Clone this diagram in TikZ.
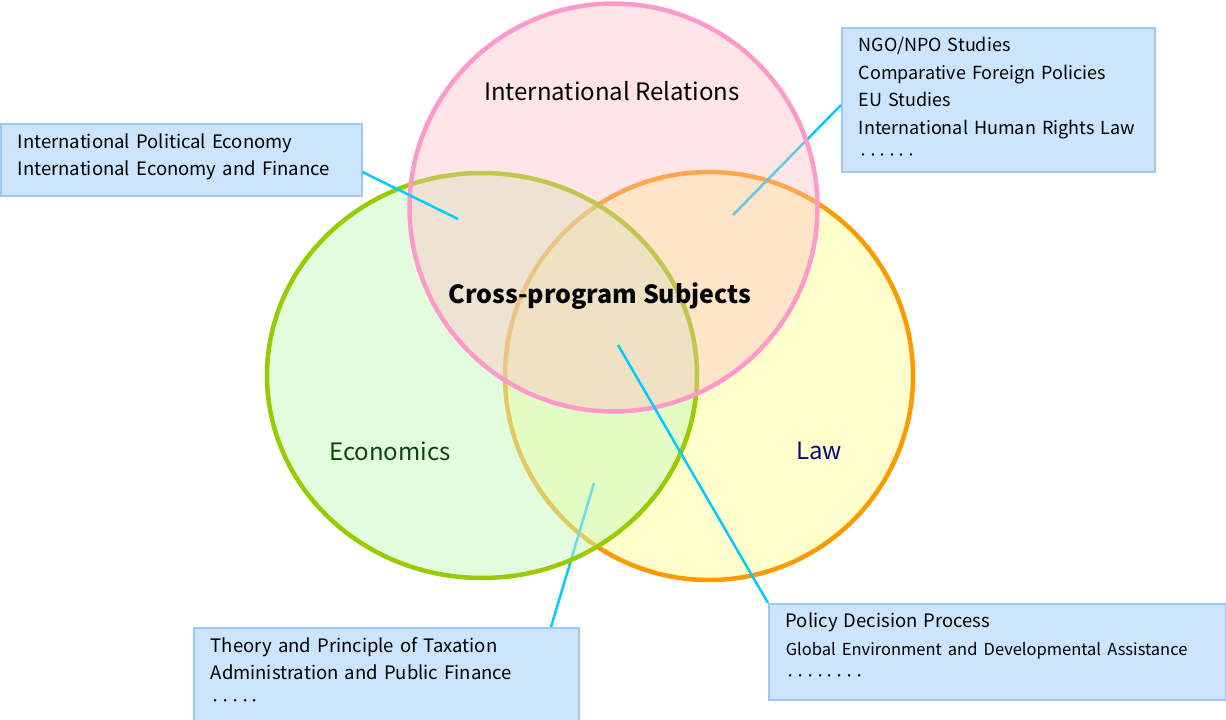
\documentclass[tikz,border=0pt]{standalone}
\usepackage{fontspec}
\setmainfont{Noto Sans CJK JP}
\definecolor{irpink}{RGB}{255,153,204}
\definecolor{irfill}{RGB}{255,189,194}
\definecolor{ecgreen}{RGB}{153,204,0}
\definecolor{ecfill}{RGB}{200,250,190}
\definecolor{laworange}{RGB}{255,153,0}
\definecolor{lawfill}{RGB}{255,255,204}
\definecolor{linkblue}{RGB}{0,204,255}
\definecolor{notefill}{RGB}{204,228,252}
\definecolor{noteline}{RGB}{157,200,242}
\newcommand{\fsz}[1]{\fontsize{#1}{#1}\selectfont}
\newcommand{\dotrow}[1]{\foreach \i in {1,...,#1}{·\kern-0.6pt}}
% extra depth under the last line of a box
\newcommand{\lift}[1]{\rule[-#1]{0pt}{0pt}}

\begin{document}
\begin{tikzpicture}[x=1pt, y=-1pt,
    venn/.style={line width=4.5pt},
    link/.style={line width=2.5pt, draw=linkblue},
    note/.style={draw=noteline, line width=1.5pt, fill=notefill, anchor=north west,
                 align=left, inner xsep=17pt, inner ysep=0pt,
                 font=\fontsize{18.5}{27.5}\selectfont}]
    \clip (0,0) rectangle (1226,720);
    % free ends of the connectors
    \coordinate (ipe) at (458,219);
    \coordinate (ngo) at (733,215);
    \coordinate (tax) at (594,483);
    \coordinate (pdp) at (618,345);
    % text boxes
    \node[note, minimum width=361pt, minimum height=72pt, text width=327pt] (econbox) at (0,123)
        {International Political Economy\\International Economy and Finance\lift{10.5pt}};
    \node[note, minimum width=313pt, minimum height=144pt, text width=279pt,
          font=\fontsize{18}{27.5}\selectfont] (irbox) at (841,27)
        {NGO/NPO Studies\\Comparative Foreign Policies\\EU Studies\\International Human Rights Law\\\dotrow{6}};
    \node[note, minimum width=385pt, minimum height=95pt, text width=351pt] (taxbox) at (193,627)
        {Theory and Principle of Taxation\\Administration and Public Finance\\\dotrow{5}\lift{6pt}};
    \node[note, minimum width=457pt, minimum height=96pt, text width=423pt] (lawbox) at (768,603)
        {Policy Decision Process\\{\fontsize{16.5}{27.5}\selectfont Global Environment and Developmental Assistance}\\\dotrow{8}\lift{8pt}};
    % the three sets, law first, then economics, relations on top
    \draw[venn, draw=laworange, fill=lawfill] (709,376) circle [radius=204];
    \draw[link] (tax) -- (taxbox.north west -| 551,0);
    \draw[venn, draw=ecgreen, fill=ecfill, fill opacity=0.5] (482,375.5) ellipse [x radius=215, y radius=202.5];
    \draw[link] (ngo) -- (irbox.north west |- 0,105);
    \draw[venn, draw=irpink, fill=irfill, fill opacity=0.4] (613.5,207.5) circle [radius=204];
    \draw[link] (ipe) -- (econbox.north east |- 0,172);
    \draw[link] (pdp) -- (lawbox.north west);
    % set names
    \node[font=\fsz{24}] (ir) at (612,91) {International Relations};
    \node[font=\fsz{24}, text={rgb,255:red,10;green,70;blue,10}] (econ) at (390,451) {Economics};
    \node[font=\fsz{24}, text={rgb,255:red,10;green,10;blue,128}] (law) at (819,451) {Law};
    \node[font=\bfseries\fsz{25}] (cross) at (600,296) {Cross-program Subjects};
\end{tikzpicture}
\end{document}
